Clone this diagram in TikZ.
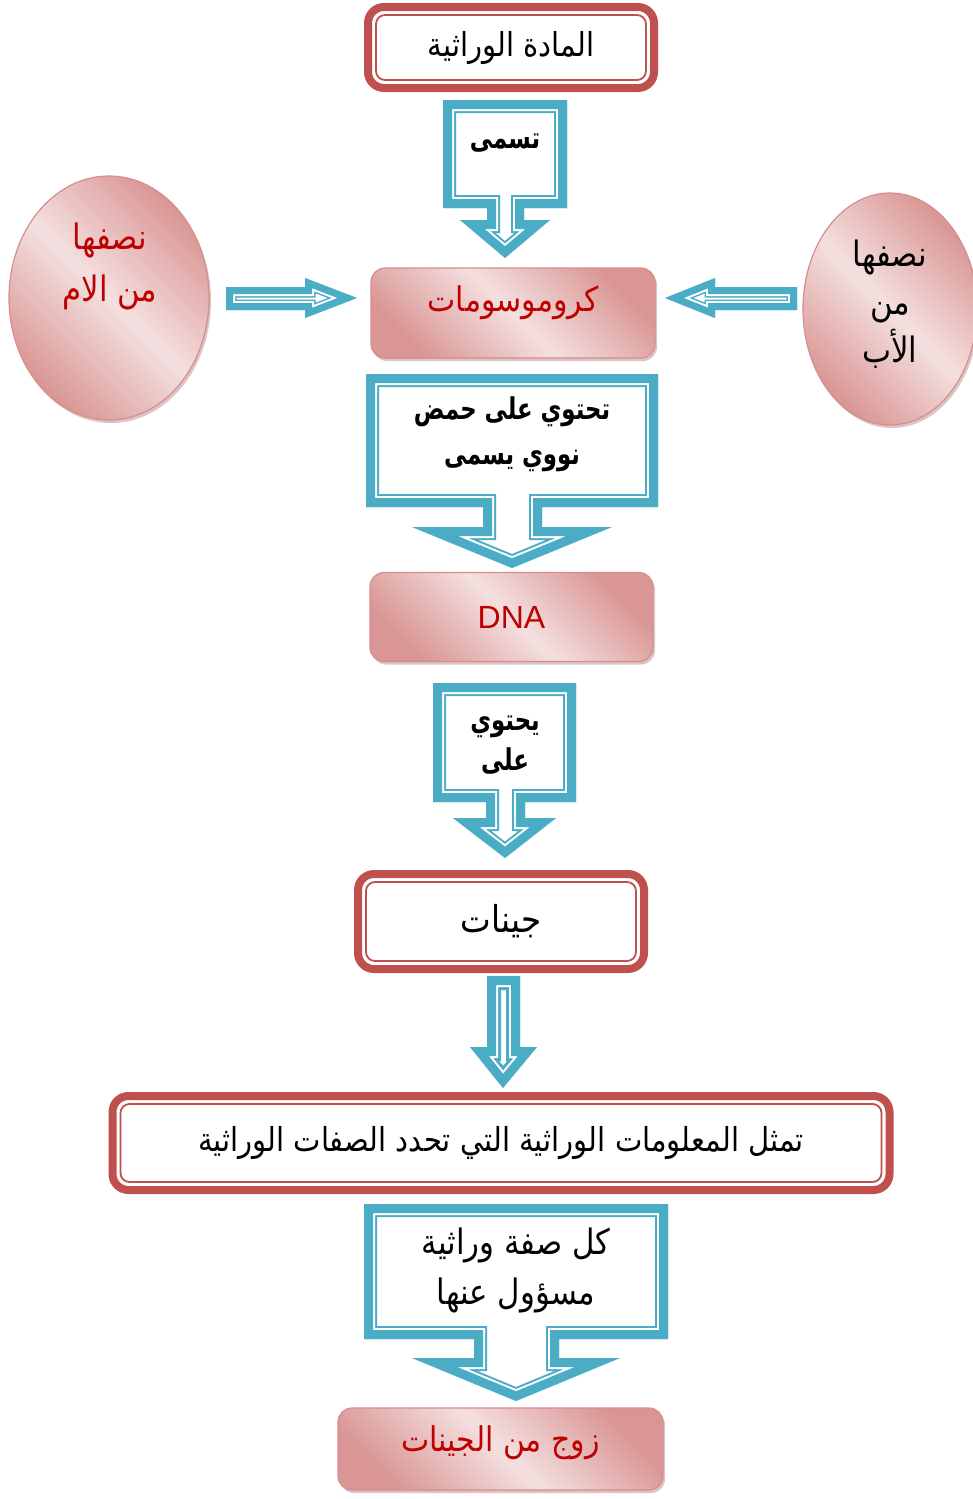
\documentclass[tikz,border=0pt]{standalone}
\usepackage{fontspec}
\setmainfont{Liberation Sans}
\newfontfamily\arabicfont[Script=Arabic,FakeStretch=0.88,BoldFeatures={FakeStretch=0.76}]{DejaVu Sans}
\TeXXeTstate=1
\usetikzlibrary{shapes.geometric,shadows,calc}

\definecolor{frameRed}{HTML}{C0504D}
\definecolor{bandBlue}{HTML}{4BACC6}
\definecolor{pinkLight}{HTML}{F4E0E0}
\definecolor{pinkDark}{HTML}{D99694}
\definecolor{pinkEdge}{HTML}{D68D8C}
\definecolor{pinkShade}{HTML}{B58A8A}
\definecolor{textRed}{HTML}{C00000}

\newcommand{\arb}[1]{{\arabicfont\beginR #1\endR}}
% blue band: outer blue, white gap, thin blue, all inside the outline
\newcommand{\banded}[4]{%
  \begin{scope}
    \clip #4;
    \draw[bandBlue,line width=#1] #4;
    \draw[white,line width=#2] #4;
    \draw[bandBlue,line width=#3] #4;
  \end{scope}}

\begin{document}
\begin{tikzpicture}[x=1pt,y=-1pt,
  redframe/.style={draw=frameRed,line width=8pt,rounded corners=16pt,outer sep=0pt,inner sep=0pt,fill=white,font=\fontsize{33}{38}\selectfont},
  innerframe/.style={draw=frameRed,line width=1.8pt,rounded corners=9pt},
  pinkbox/.style={draw=pinkEdge,line width=1.2pt,rounded corners=14pt,inner sep=0pt,
    top color=pinkDark,bottom color=pinkDark,middle color=pinkLight,shading angle=-45,
    drop shadow={shadow xshift=2pt,shadow yshift=-3pt,fill=pinkShade},
    text=textRed,font=\fontsize{34}{38}\selectfont},
  pinkcell/.style={pinkbox,ellipse,rounded corners=0pt},
  calltext/.style={align=center,font=\fontsize{30}{45}\selectfont\bfseries},
  plaintext/.style={align=center,font=\fontsize{35}{50}\selectfont}
]
\useasboundingbox (0,0) rectangle (972,1499);

% framed boxes
\node[redframe,minimum width=286pt,minimum height=81pt] (heredity) at (511,47.5) {\arb{المادة الوراثية}};
\node[redframe,minimum width=286pt,minimum height=95pt,font=\fontsize{37}{40}\selectfont] (genes) at (501,921.5) {\arb{جينات}};
\node[redframe,minimum width=777pt,minimum height=94pt] (info) at (501,1143) {\arb{تمثل المعلومات الوراثية التي تحدد الصفات الوراثية}};
\foreach \n in {heredity,genes,info}
  \draw[innerframe] ($(\n.north west)+(8,8)$) rectangle ($(\n.south east)+(-8,-8)$);

% pink boxes
\node[pinkbox,minimum width=284pt,minimum height=90pt,text height=20pt,text depth=24pt] (chromo) at (513,313) {\arb{كروموسومات}};
\node[pinkbox,minimum width=283pt,minimum height=89pt,font=\fontsize{32}{36}\selectfont] (dna) at (511.5,617) {DNA};
\node[pinkbox,minimum width=325pt,minimum height=82pt,text height=24pt,text depth=20pt] (pair) at (500.5,1449) {\arb{زوج من الجينات}};

% the two halves
\node[pinkcell,minimum width=200pt,minimum height=244pt] (mom) at (109,298) {};
\node[pinkcell,minimum width=174pt,minimum height=232pt] (dad) at (890,309) {};
\node[plaintext,text=textRed,font=\fontsize{35}{52}\selectfont] (momtxt) at (110,266) {\arb{نصفها}\\\arb{من الام}};
\node[plaintext,font=\fontsize{35}{48}\selectfont] (dadtxt) at (890,304) {\arb{نصفها}\\\arb{من}\\\arb{الأب}};

% side arrows
\banded{21pt}{18pt}{14pt}{(226,287) -- (305,287) -- (305,278) -- (357,298) -- (305,318) -- (305,310) -- (226,310) -- cycle}
\banded{21pt}{18pt}{14pt}{(797,287) -- (715,287) -- (715,278) -- (665,298) -- (715,318) -- (715,310) -- (797,310) -- cycle}

% callouts
\banded{26pt}{22pt}{18pt}{(443,100) -- (567,100) -- (567,208) -- (524,208) -- (524,220) -- (550,220) -- (505,258) -- (460,220) -- (487,220) -- (487,208) -- (443,208) -- cycle}
\node[calltext] (named) at (505,143) {\arb{تسمى}};

\banded{26pt}{22pt}{18pt}{(366,374) -- (658,374) -- (658,507) -- (542,507) -- (542,527) -- (612,527) -- (512,568) -- (412,527) -- (483,527) -- (483,507) -- (366,507) -- cycle}
\node[calltext] (holds) at (512,434) {\arb{تحتوي على حمض}\\\arb{نووي يسمى}};

\banded{26pt}{22pt}{18pt}{(433,683) -- (576,683) -- (576,802) -- (525,802) -- (525,818) -- (556,818) -- (505,858) -- (453,818) -- (486,818) -- (486,802) -- (433,802) -- cycle}
\node[calltext,font=\fontsize{30}{40}\selectfont\bfseries] (carries) at (505,745) {\arb{يحتوي}\\\arb{على}};

\banded{28pt}{22pt}{18pt}{(487,976) -- (520,976) -- (520,1047) -- (537,1047) -- (503,1088) -- (470,1047) -- (487,1047) -- cycle}

\banded{26pt}{22pt}{18pt}{(364,1204) -- (668,1204) -- (668,1339) -- (559,1339) -- (559,1358) -- (620,1358) -- (516,1401) -- (412,1358) -- (474,1358) -- (474,1339) -- (364,1339) -- cycle}
\node[plaintext] (eachtrait) at (516,1270) {\arb{كل صفة وراثية}\\\arb{مسؤول عنها}};
\end{tikzpicture}
\end{document}
